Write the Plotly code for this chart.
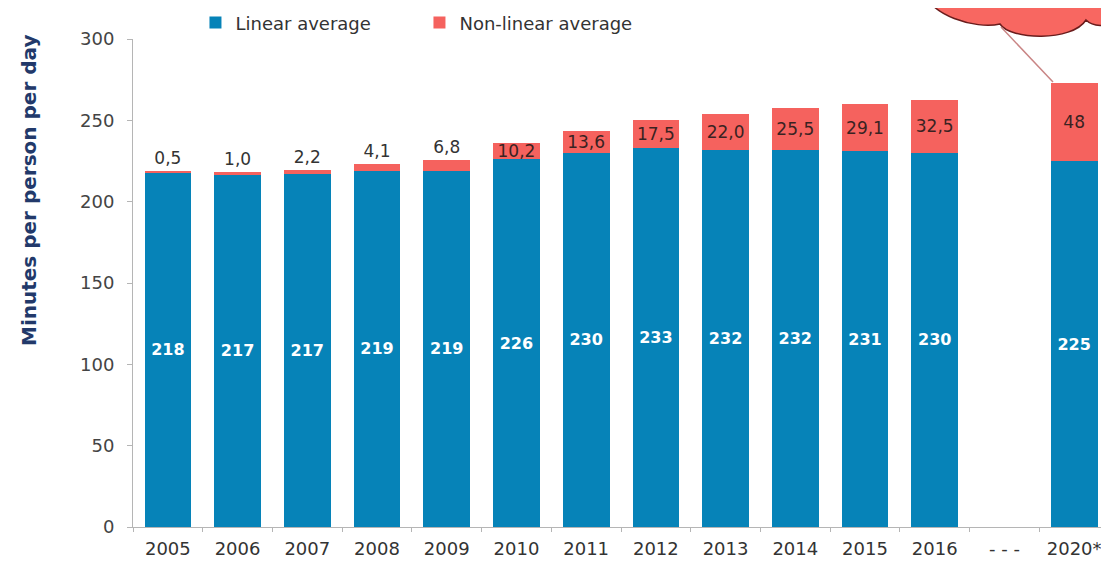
import plotly.graph_objects as go

# ---- data ----
categories = ["2005", "2006", "2007", "2008", "2009", "2010", "2011", "2012",
              "2013", "2014", "2015", "2016", "- - -", "2020*"]
linear = [218, 217, 217, 219, 219, 226, 230, 233, 232, 232, 231, 230, None, 225]
nonlinear = [0.5, 1.0, 2.2, 4.1, 6.8, 10.2, 13.6, 17.5, 22.0, 25.5, 29.1, 32.5, None, 48]
nonlinear_labels = ["0,5", "1,0", "2,2", "4,1", "6,8", "10,2", "13,6", "17,5",
                    "22,0", "25,5", "29,1", "32,5", "", "48"]
y_ticks = [0, 50, 100, 150, 200, 250, 300]

BLUE = "#0683B8"
RED = "#F5625E"
FONT = "DejaVu Sans, Verdana, sans-serif"

OFF = 8  # page body margin
W, H = 1101, 558
ML, MR, MT, MB = 125, 0, 31, 39
PW, PH = W - ML - MR, H - MT - MB


def px(x, y):
    """screen pixel -> paper coords (decoration only)"""
    return (x - OFF - ML) / PW, (H - MB - (y - OFF)) / PH


fig = go.Figure()
fig.add_trace(go.Bar(
    x=categories, y=linear, name="Linear average",
    marker=dict(color=BLUE, line=dict(width=0)),
    text=[("" if v is None else str(v)) for v in linear],
    textposition="inside", insidetextanchor="middle", constraintext="none",
    textfont=dict(color="white", size=16, family=FONT, weight="bold"),
    hoverinfo="skip",
))
positions = ["outside" if (v is not None and v < 8) else "inside" for v in nonlinear]
fig.add_trace(go.Bar(
    x=categories, y=nonlinear, name="Non-linear average",
    marker=dict(color=RED, line=dict(width=0)),
    text=nonlinear_labels,
    textposition=positions, insidetextanchor="middle", constraintext="none",
    insidetextfont=dict(color="#3a2222", size=17, family=FONT),
    outsidetextfont=dict(color="#333333", size=17, family=FONT),
    cliponaxis=False,
    hoverinfo="skip",
))

# cloud decoration (top right, partly cut off) and pointer line
pts = [(925, -8), (928, 14, 975, 30, 1000, 24), (1010, 40, 1072, 42, 1086, 20),
       (1093, 27, 1106, 27, 1118, 22)]
def P(x, y):
    a, b = px(x, y)
    return f"{a:.5f},{b:.5f}"
path = "M " + P(*pts[0])
for c in pts[1:]:
    path += " C " + P(c[0], c[1]) + " " + P(c[2], c[3]) + " " + P(c[4], c[5])
path += " L " + P(1118, -8) + " Z"
fig.add_shape(type="path", path=path, xref="paper", yref="paper",
              fillcolor="#F86761", line=dict(color="#6a1c1c", width=1.5), layer="above")
x0, y0 = px(1001, 27)
x1, y1 = px(1053, 82)
fig.add_shape(type="line", x0=x0, y0=y0, x1=x1, y1=y1, xref="paper", yref="paper",
              line=dict(color="#c98585", width=1.5))

# y-axis title (placed in the upper part, as in the original)
tx, ty = px(29, 191)
fig.add_annotation(text="<b>Minutes per person per day</b>", textangle=-90,
                   xref="paper", yref="paper", x=tx, y=ty, showarrow=False,
                   xanchor="center", yanchor="middle",
                   font=dict(size=20, color="#22396a", family=FONT))

fig.update_layout(
    width=W, height=H,
    margin=dict(l=ML, r=MR, t=MT, b=MB, autoexpand=False),
    barmode="stack", bargap=0.33,
    plot_bgcolor="white", paper_bgcolor="white",
    font=dict(family=FONT, color="#333333", size=18),
    showlegend=True,
    legend=dict(orientation="h", x=0.064, y=1.033, xanchor="left", yanchor="middle",
                font=dict(size=18, color="#333333", family=FONT),
                itemwidth=30, entrywidth=179, entrywidthmode="pixels",
                traceorder="normal", bgcolor="rgba(0,0,0,0)"),
    xaxis=dict(type="category", categoryorder="array", categoryarray=categories,
               showline=True, linecolor="#b5b5b5", linewidth=1,
               ticks="outside", tickson="boundaries", ticklen=4, tickcolor="#b5b5b5",
               ticklabelstandoff=5,
               tickfont=dict(size=18, color="#333333", family=FONT),
               showgrid=False, zeroline=False),
    yaxis=dict(range=[0, 300], tickvals=y_ticks,
               showline=True, linecolor="#b5b5b5", linewidth=1,
               ticks="outside", ticklen=5, tickcolor="#b5b5b5",
               ticklabelstandoff=9,
               tickfont=dict(size=18, color="#444444", family=FONT),
               showgrid=False, zeroline=False),
)

fig.write_html("out.html")
